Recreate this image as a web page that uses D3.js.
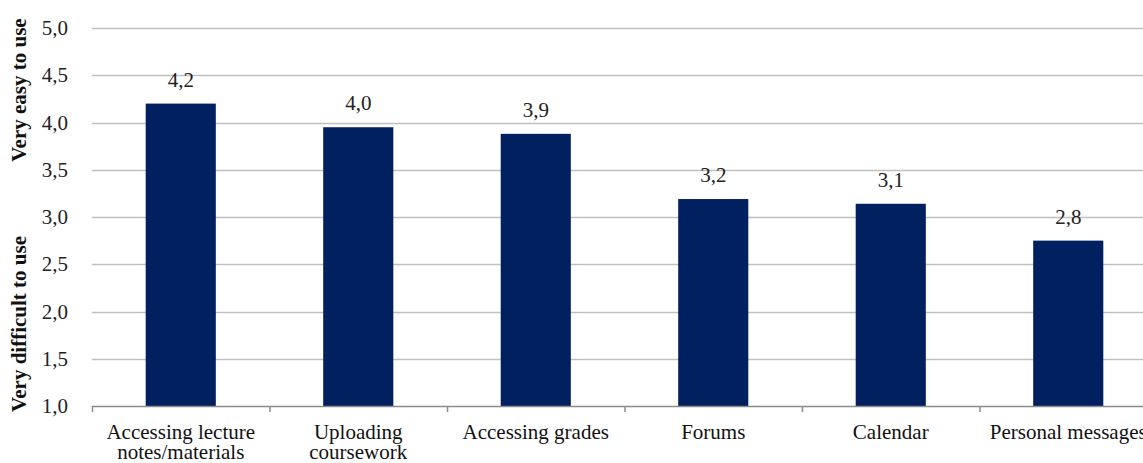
<!DOCTYPE html>
<html>
<head>
<meta charset="utf-8">
<script src="https://cdn.jsdelivr.net/npm/d3@7"></script>
<style>
  body { margin: 0; background: #fff; }
  svg { display: block; font-family: "Liberation Serif", "Times New Roman", serif; }
</style>
</head>
<body>
<div id="chart"></div>
<script>
// categories and values
const categories = [
  ['Accessing lecture', 'notes/materials'],
  ['Uploading', 'coursework'],
  ['Accessing grades'],
  ['Forums'],
  ['Calendar'],
  ['Personal messages']
];
const values = [4.2, 3.95, 3.88, 3.19, 3.14, 2.75];
const yTicks = [1, 1.5, 2, 2.5, 3, 3.5, 4, 4.5, 5];

const w = 1143, h = 463;
const mLeft = 92, mRight = 1157, mTop = 28, mBottom = 406;
const fs = 21;

const svg = d3.select('#chart').append('svg')
  .attr('width', w)
  .attr('height', h);

const x = d3.scaleBand()
  .domain(d3.range(categories.length))
  .range([mLeft, mRight])
  .paddingInner(0.605)
  .paddingOuter(0.3025);

const y = d3.scaleLinear()
  .domain([1, 5])
  .range([mBottom, mTop]);

const fmt = v => d3.format('.1f')(v).replace('.', ',');

/* gridlines */
svg.append('g')
  .selectAll('line')
  .data(yTicks.filter(t => t > 1))
  .join('line')
  .attr('x1', mLeft)
  .attr('x2', w)
  .attr('y1', d => Math.round(y(d)) + 0.5)
  .attr('y2', d => Math.round(y(d)) + 0.5)
  .attr('stroke', '#c0c0c0')
  .attr('stroke-width', 1.5);

/* y tick labels */
svg.append('g')
  .selectAll('text')
  .data(yTicks)
  .join('text')
  .attr('x', 68)
  .attr('y', d => y(d) + 7)
  .attr('text-anchor', 'end')
  .attr('font-size', fs)
  .attr('fill', '#222')
  .text(fmt);

/* bars */
svg.append('g')
  .selectAll('rect')
  .data(values)
  .join('rect')
  .attr('x', (d, i) => x(i))
  .attr('width', x.bandwidth())
  .attr('y', d => y(d))
  .attr('height', d => y(1) - y(d))
  .attr('fill', '#002060');

/* value labels */
svg.append('g')
  .selectAll('text')
  .data(values)
  .join('text')
  .attr('x', (d, i) => x(i) + x.bandwidth() / 2)
  .attr('y', d => y(d) - 17)
  .attr('text-anchor', 'middle')
  .attr('font-size', fs)
  .attr('fill', '#222')
  .text(d => fmt(Math.round(d * 10) / 10));

/* x axis */
const xAxis = svg.append('g').attr('transform', `translate(0,${mBottom})`);
xAxis.append('line')
  .attr('x1', mLeft).attr('x2', w)
  .attr('y1', 0.5).attr('y2', 0.5)
  .attr('stroke', '#8c8c8c')
  .attr('stroke-width', 1.5);
const step = x.step();
xAxis.selectAll('.tick')
  .data(d3.range(categories.length + 1))
  .join('line')
  .attr('class', 'tick')
  .attr('x1', i => mLeft + i * step + 0.5)
  .attr('x2', i => mLeft + i * step + 0.5)
  .attr('y1', 0)
  .attr('y2', 6)
  .attr('stroke', '#8c8c8c')
  .attr('stroke-width', 1.5);

xAxis.selectAll('.cat')
  .data(categories)
  .join('text')
  .attr('class', 'cat')
  .attr('text-anchor', 'middle')
  .attr('font-size', fs)
  .attr('fill', '#111')
  .attr('x', (d, i) => x(i) + x.bandwidth() / 2)
  .attr('y', 33)
  .selectAll('tspan')
  .data(d => d)
  .join('tspan')
  .attr('x', function () { return this.parentNode.getAttribute('x'); })
  .attr('dy', (d, i) => i === 0 ? 0 : 20)
  .text(d => d);

/* y axis titles */
svg.append('text')
  .attr('transform', 'translate(26,90) rotate(-90)')
  .attr('text-anchor', 'middle')
  .attr('font-size', fs)
  .attr('font-weight', 'bold')
  .attr('fill', '#111')
  .text('Very easy to use');

svg.append('text')
  .attr('transform', 'translate(26,324) rotate(-90)')
  .attr('text-anchor', 'middle')
  .attr('font-size', fs)
  .attr('font-weight', 'bold')
  .attr('fill', '#111')
  .text('Very difficult to use');
</script>
</body>
</html>
